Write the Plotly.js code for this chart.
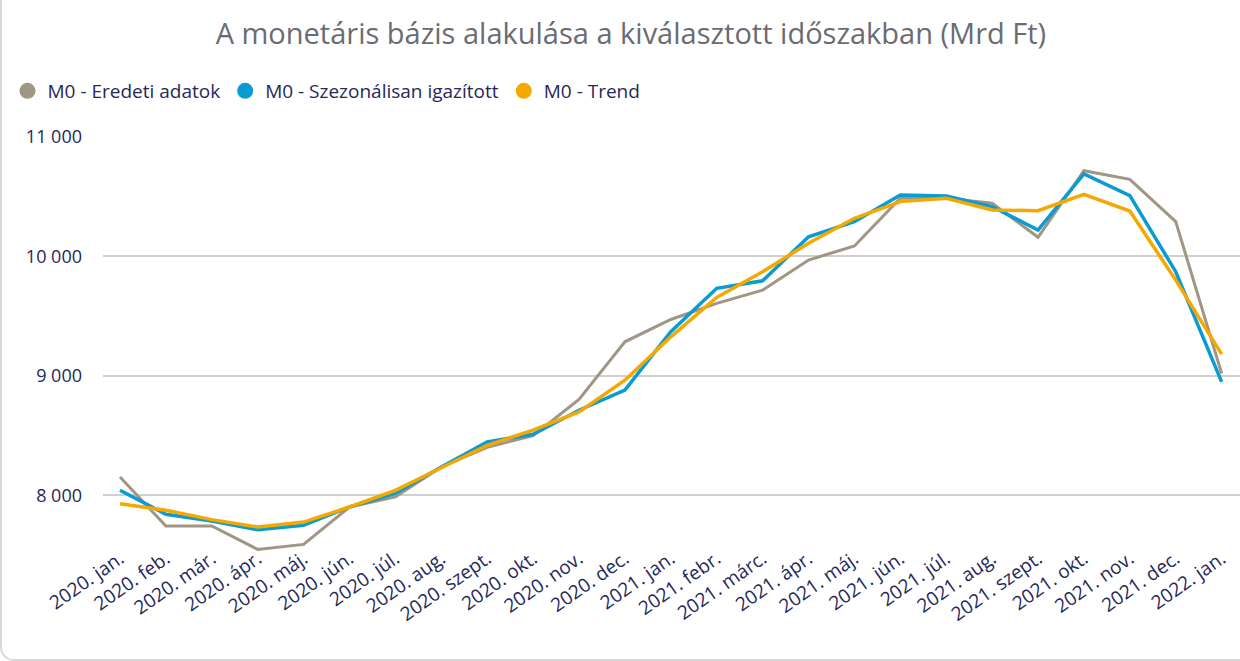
<!DOCTYPE html>
<html>
<head>
<meta charset="utf-8">
<script src="https://cdn.plot.ly/plotly-3.0.1.min.js"></script>
<style>
html,body{margin:0;padding:0;background:#fff;}
#wrap{width:1238px;height:659px;border-left:2px solid #d9d9d9;border-bottom:2px solid #d9d9d9;border-bottom-left-radius:14px;overflow:hidden;}
#chart{width:1238px;height:659px;}
</style>
</head>
<body>
<div id="wrap"><div id="chart"></div></div>
<script>
const months = ["2020. jan.","2020. feb.","2020. már.","2020. ápr.","2020. máj.","2020. jún.","2020. júl.","2020. aug.","2020. szept.","2020. okt.","2020. nov.","2020. dec.",
"2021. jan.","2021. febr.","2021. márc.","2021. ápr.","2021. máj.","2021. jún.","2021. júl.","2021. aug.","2021. szept.","2021. okt.","2021. nov.","2021. dec.","2022. jan."];
const eredeti = [8153,7743,7743,7547,7589,7902,7986,8237,8402,8500,8802,9285,9472,9607,9718,9970,10087,10487,10487,10445,10160,10718,10646,10291,9020];
const szezonalis = [8042,7841,7785,7712,7749,7902,8017,8237,8447,8511,8712,8880,9369,9733,9796,10165,10291,10515,10506,10417,10221,10691,10509,9872,8950];
const trend = [7930,7874,7796,7735,7776,7902,8042,8232,8419,8545,8698,8964,9327,9657,9872,10110,10319,10459,10487,10389,10383,10520,10380,9802,9182];
const yTickVals = [8000,9000,10000,11000];
const yTickText = ["8 000","9 000","10 000","11 000"];
const seriesNames = ["M0 - Eredeti adatok","M0 - Szezonálisan igazított","M0 - Trend"];
const colors = ["#a09683","#0b9bd3","#f5a800"];

const traces = [];
const series = [eredeti, szezonalis, trend];
const widths = [3, 3.5, 3.5];
series.forEach((s,i)=>{
  traces.push({x: months, y: s, type:'scatter', mode:'lines', name: seriesNames[i],
    line:{color: colors[i], width: widths[i]}, showlegend:false});
});
series.forEach((s,i)=>{
  traces.push({x:[months[0]], y:[null], type:'scatter', mode:'markers', name: seriesNames[i],
    marker:{color: colors[i], size:20, symbol:'circle'}, showlegend:true});
});

const layout = {
  width:1238, height:659,
  margin:{l:101, r:0, t:137, b:104},
  paper_bgcolor:'#fff', plot_bgcolor:'#fff',
  font:{family:'Open Sans, sans-serif', color:'#25285a'},
  title:{text:'A monetáris bázis alakulása a kiválasztott időszakban (Mrd Ft)', x:0.508, xanchor:'center', y:0.948, yanchor:'middle',
    font:{size:29, color:'#6b6b73', family:'Open Sans, sans-serif'}},
  showlegend:true,
  legend:{orientation:'h', x:-0.084, xanchor:'left', y:1.11, yanchor:'middle', font:{size:19, color:'#25285a'},
    itemsizing:'trace', itemwidth:30, tracegroupgap:0},
  xaxis:{type:'category', range:[-0.37, 24.4], tickangle:-35, showgrid:false, zeroline:false, showline:false,
    ticks:'', tickfont:{size:19, color:'#25285a'}, ticklabelstandoff:-12, fixedrange:true},
  yaxis:{range:[7500, 11000], tickvals:yTickVals, ticktext:yTickText, showgrid:true, gridcolor:'#d0d0d0', gridwidth:2,
    zeroline:false, showline:false, ticks:'', tickfont:{size:18, color:'#25285a'}, ticklabelstandoff:20, fixedrange:true}
};
Plotly.newPlot('chart', traces, layout, {displayModeBar:false, staticPlot:true});
</script>
</body>
</html>
